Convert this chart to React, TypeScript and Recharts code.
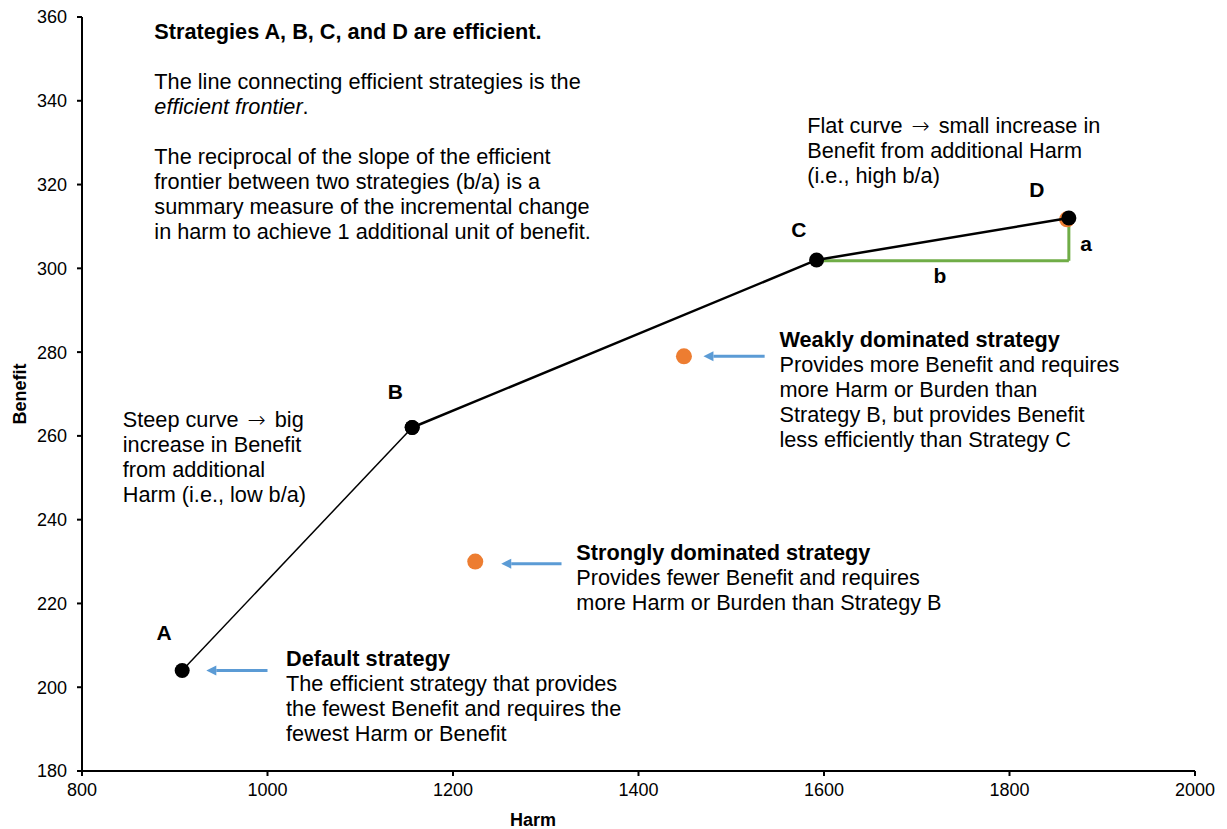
import React from "react";
import {
  ScatterChart,
  Scatter,
  XAxis,
  YAxis,
  ReferenceLine,
  ReferenceDot,
} from "recharts";

const xTicks = [800, 1000, 1200, 1400, 1600, 1800, 2000];
const yTicks = [180, 200, 220, 240, 260, 280, 300, 320, 340, 360];

// efficient strategies A..D
const strategyNames = ["A", "B", "C", "D"];
const frontierHarm = [908, 1156, 1592, 1864];
const frontierBenefit = [204, 262, 302, 312];

// dominated strategies (strong, weak, and one hidden behind D)
const dominatedHarm = [1224, 1449, 1862];
const dominatedBenefit = [230, 279, 311.7];

// b / a legs of the slope triangle between C and D
const legBaseBenefit = 301.8;

// arrows pointing at strategies: tail harm, head harm, benefit
const arrowTail = [1000, 1317, 1536];
const arrowHead = [934, 1252, 1470];
const arrowBenefit = [204, 229.5, 279];

const ARROW = "\u2192";

const topNote = [
  "Strategies A, B, C, and D are efficient.",
  "",
  "The line connecting efficient strategies is the",
  "efficient frontier.",
  "",
  "The reciprocal of the slope of the efficient",
  "frontier between two strategies (b/a) is a",
  "summary measure of the incremental change",
  "in harm to achieve 1 additional unit of benefit.",
];
const flatNote = [
  `Flat curve ${ARROW} small increase in`,
  "Benefit from additional Harm",
  "(i.e., high b/a)",
];
const steepNote = [
  `Steep curve ${ARROW} big`,
  "increase in Benefit",
  "from additional",
  "Harm (i.e., low b/a)",
];
const weakNote = [
  "Weakly dominated strategy",
  "Provides more Benefit and requires",
  "more Harm or Burden than",
  "Strategy B, but provides Benefit",
  "less efficiently than Strategy C",
];
const strongNote = [
  "Strongly dominated strategy",
  "Provides fewer Benefit and requires",
  "more Harm or Burden than Strategy B",
];
const defaultNote = [
  "Default strategy",
  "The efficient strategy that provides",
  "the fewest Benefit and requires the",
  "fewest Harm or Benefit",
];

const FONT = '"Liberation Sans", Arial, sans-serif';
const BLACK = "#000000";
const ORANGE = "#ED7D31";
const BLUE = "#5B9BD5";
const GREEN = "#70AD47";

const frontier = frontierHarm.map((x, i) => ({ x, y: frontierBenefit[i], name: strategyNames[i] }));
const dominated = dominatedHarm.map((x, i) => ({ x, y: dominatedBenefit[i] }));

function lineContent(line: string) {
  if (line === "efficient frontier.") {
    return [<tspan key="it" fontStyle="italic">efficient frontier</tspan>, "."];
  }
  if (line.includes(ARROW)) {
    const [before, after] = line.split(ARROW);
    return [
      before,
      <tspan key="ar" dx={3} fontFamily='"DejaVu Sans", sans-serif' fontWeight={200}>
        {ARROW}
      </tspan>,
      <tspan key="af" dx={3}>
        {after}
      </tspan>,
    ];
  }
  return line;
}

function TextBlock({ cx, cy, lines, boldFirst, fontSize, lineHeight }: any) {
  return (
    <text x={cx} y={cy} fontSize={fontSize} fill={BLACK} fontFamily={FONT}>
      {lines.map((line: string, i: number) => {
        const bold = (boldFirst && i === 0) || line.startsWith("Strategies A");
        return (
          <tspan key={i} x={cx} y={cy + i * lineHeight} fontWeight={bold ? 700 : 400}>
            {lineContent(line)}
          </tspan>
        );
      })}
    </text>
  );
}

function Arrow(props: any) {
  const { x1, y1, x2, y2 } = props;
  const dir = x2 < x1 ? 1 : -1;
  const headLen = 10;
  return (
    <g>
      <line x1={x1} y1={y1} x2={x2 + dir * headLen} y2={y2} stroke={BLUE} strokeWidth={3} />
      <polygon
        points={`${x2},${y2} ${x2 + dir * headLen},${y2 - 5} ${x2 + dir * headLen},${y2 + 5}`}
        fill={BLUE}
      />
    </g>
  );
}

const blackDot = (p: any) => <circle cx={p.cx} cy={p.cy} r={7.5} fill={BLACK} />;
const orangeDot = (p: any) => <circle cx={p.cx} cy={p.cy} r={8} fill={ORANGE} />;

function note(
  x: number,
  y: number,
  lines: string[],
  boldFirst = false,
  fontSize = 21.7,
  lineHeight = 25
) {
  return (
    <ReferenceDot
      x={x}
      y={y}
      r={0}
      shape={(p: any) => (
        <TextBlock
          cx={p.cx}
          cy={p.cy}
          lines={lines}
          boldFirst={boldFirst}
          fontSize={fontSize}
          lineHeight={lineHeight}
        />
      )}
    />
  );
}

function letter(x: number, y: number, text: string) {
  return (
    <ReferenceDot
      x={x}
      y={y}
      r={0}
      shape={(p: any) => (
        <text x={p.cx} y={p.cy} textAnchor="middle" fontSize={21} fontWeight={700} fill={BLACK} fontFamily={FONT}>
          {text}
        </text>
      )}
    />
  );
}

export default function App() {
  return (
    <div style={{ width: 1227, height: 829, fontFamily: FONT }}>
      <style>{"body{margin:0;overflow:hidden}"}</style>
      <ScatterChart width={1227} height={829} margin={{ top: 17, right: 32, bottom: 0, left: 0 }}>
        <XAxis
          type="number"
          dataKey="x"
          domain={[800, 2000]}
          ticks={xTicks}
          allowDataOverflow
          height={58}
          stroke={BLACK}
          strokeWidth={2}
          tickSize={5}
          tickMargin={7}
          tick={{ fill: BLACK, fontSize: 18, fontFamily: FONT }}
          label={{
            content: (p: any) => (
              <text
                x={p.viewBox.x + 451}
                y={p.viewBox.y + 55}
                textAnchor="middle"
                fontSize={18}
                fontWeight={700}
                fill={BLACK}
                fontFamily={FONT}
              >
                Harm
              </text>
            ),
          }}
        />
        <YAxis
          type="number"
          dataKey="y"
          domain={[180, 360]}
          ticks={yTicks}
          allowDataOverflow
          width={82}
          stroke={BLACK}
          strokeWidth={2}
          tickSize={5}
          tickMargin={10}
          tick={{ fill: BLACK, fontSize: 18, fontFamily: FONT }}
          label={{
            content: (p: any) => {
              const x = p.viewBox.x + 20;
              const y = p.viewBox.y + p.viewBox.height / 2;
              return (
                <text
                  x={x}
                  y={y}
                  dy={6}
                  transform={`rotate(-90, ${x}, ${y})`}
                  textAnchor="middle"
                  fontSize={18}
                  fontWeight={700}
                  fill={BLACK}
                  fontFamily={FONT}
                >
                  Benefit
                </text>
              );
            },
          }}
        />

        <ReferenceLine
          segment={[
            { x: frontierHarm[2], y: legBaseBenefit },
            { x: frontierHarm[3], y: legBaseBenefit },
          ]}
          stroke={GREEN}
          strokeWidth={3}
        />
        <ReferenceLine
          segment={[
            { x: frontierHarm[3], y: legBaseBenefit },
            { x: frontierHarm[3], y: frontierBenefit[3] - 1 },
          ]}
          stroke={GREEN}
          strokeWidth={3}
        />

        {arrowTail.map((tail, i) => (
          <ReferenceLine
            key={`arrow-${i}`}
            segment={[
              { x: tail, y: arrowBenefit[i] },
              { x: arrowHead[i], y: arrowBenefit[i] },
            ]}
            shape={Arrow}
          />
        ))}

        <Scatter data={dominated} shape={orangeDot} isAnimationActive={false} />
        <Scatter
          data={frontier.slice(0, 2)}
          line={{ stroke: BLACK, strokeWidth: 1.5 }}
          shape={blackDot}
          isAnimationActive={false}
        />
        <Scatter
          data={frontier.slice(1)}
          line={{ stroke: BLACK, strokeWidth: 2.5 }}
          shape={blackDot}
          isAnimationActive={false}
        />

        {note(878, 354.8, topNote)}
        {note(1582, 332.3, flatNote)}
        {note(844, 262.2, steepNote)}
        {note(1552, 281.3, weakNote, true)}
        {note(1333, 230.4, strongNote, true)}
        {note(1020, 205.1, defaultNote, true)}

        {letter(888.5, 211.3, "A")}
        {letter(1137.8, 268.8, "B")}
        {letter(1572.8, 307.5, "C")}
        {letter(1829.6, 317.1, "D")}
        {letter(1882.5, 304.2, "a")}
        {letter(1725, 296.5, "b")}
      </ScatterChart>
    </div>
  );
}
